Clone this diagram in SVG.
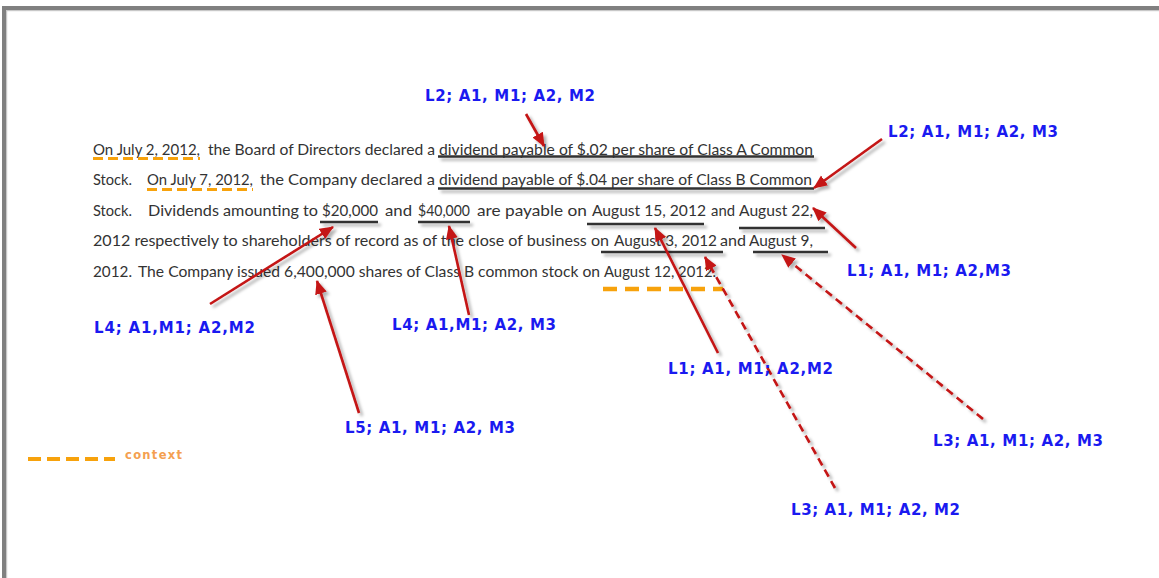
<svg xmlns="http://www.w3.org/2000/svg" width="1159" height="578" viewBox="0 0 1159 578">
<style>
.body{font-family:Lato,"Liberation Sans",sans-serif;font-size:15px;fill:#333}
.lbl{font-family:"DejaVu Sans",Verdana,sans-serif;font-size:15px;font-weight:bold;fill:#1a1af0}
.ul{stroke:#333;stroke-width:2.6;fill:none}
.ctx{stroke:#f7a20c;fill:none}
.arr{stroke:#c41414;stroke-width:2.6;fill:none}
.dash{stroke-dasharray:8 5}
</style>
<defs>
<filter id="sh" x="-20%" y="-50%" width="140%" height="300%">
<feDropShadow dx="3" dy="3" stdDeviation="1.6" flood-color="#000" flood-opacity="0.3"/>
</filter>
<marker id="ah" markerUnits="userSpaceOnUse" markerWidth="16" markerHeight="14" refX="13" refY="6" orient="auto">
<path d="M0,0 L14,6 L0,12 Z" fill="#c41414"/>
</marker>
</defs>
<rect width="1159" height="578" fill="#fff"/>
<g id="frame">
<rect x="2" y="6" width="1157" height="4" fill="#808080"/>
<rect x="2" y="6" width="4" height="572" fill="#808080"/>
<rect x="6" y="10" width="1153" height="1.2" fill="#c8c8c8"/>
<rect x="6" y="10" width="1.2" height="568" fill="#c8c8c8"/>
</g>
<g id="text-body">
<text class="body" x="93" y="154.5" textLength="107" lengthAdjust="spacingAndGlyphs">On July 2, 2012,</text>
<text class="body" x="208" y="154.5" textLength="227" lengthAdjust="spacingAndGlyphs">the Board of Directors declared a</text>
<text class="body" x="439" y="154.5" textLength="374" lengthAdjust="spacingAndGlyphs">dividend payable of $.02 per share of Class A Common</text>
<text class="body" x="93" y="185" textLength="39" lengthAdjust="spacingAndGlyphs">Stock.</text>
<text class="body" x="147" y="185" textLength="106" lengthAdjust="spacingAndGlyphs">On July 7, 2012,</text>
<text class="body" x="260" y="185" textLength="175" lengthAdjust="spacingAndGlyphs">the Company declared a</text>
<text class="body" x="439" y="185" textLength="373" lengthAdjust="spacingAndGlyphs">dividend payable of $.04 per share of Class B Common</text>
<text class="body" x="93" y="215.5" textLength="39" lengthAdjust="spacingAndGlyphs">Stock.</text>
<text class="body" x="148" y="215.5" textLength="170" lengthAdjust="spacingAndGlyphs">Dividends amounting to</text>
<text class="body" x="322" y="215.5" textLength="56" lengthAdjust="spacingAndGlyphs">$20,000</text>
<text class="body" x="385" y="215.5" textLength="27" lengthAdjust="spacingAndGlyphs">and</text>
<text class="body" x="418" y="215.5" textLength="52" lengthAdjust="spacingAndGlyphs">$40,000</text>
<text class="body" x="477" y="215.5" textLength="110" lengthAdjust="spacingAndGlyphs">are payable on</text>
<text class="body" x="592" y="215.5" textLength="114" lengthAdjust="spacingAndGlyphs">August 15, 2012</text>
<text class="body" x="711" y="215.5" textLength="24" lengthAdjust="spacingAndGlyphs">and</text>
<text class="body" x="739" y="215.5" textLength="74" lengthAdjust="spacingAndGlyphs">August 22,</text>
<text class="body" x="93" y="246" textLength="516" lengthAdjust="spacingAndGlyphs">2012 respectively to shareholders of record as of the close of business on</text>
<text class="body" x="614" y="246" textLength="103" lengthAdjust="spacingAndGlyphs">August 3, 2012</text>
<text class="body" x="720" y="246" textLength="26" lengthAdjust="spacingAndGlyphs">and</text>
<text class="body" x="749" y="246" textLength="64" lengthAdjust="spacingAndGlyphs">August 9,</text>
<text class="body" x="93" y="276.5" textLength="39" lengthAdjust="spacingAndGlyphs">2012.</text>
<text class="body" x="138" y="276.5" textLength="462" lengthAdjust="spacingAndGlyphs">The Company issued 6,400,000 shares of Class B common stock on</text>
<text class="body" x="604" y="276.5" textLength="112" lengthAdjust="spacingAndGlyphs">August 12, 2012.</text>
</g>
<g id="underlines" filter="url(#sh)">
<line class="ul" x1="438" y1="156.5" x2="814" y2="156.5"/>
<line class="ul" x1="438" y1="188.5" x2="814" y2="188.5"/>
<line class="ul" x1="320" y1="222" x2="378" y2="222"/>
<line class="ul" x1="418" y1="222" x2="470" y2="222"/>
<line class="ul" x1="587" y1="224" x2="704" y2="224"/>
<line class="ul" x1="739" y1="228" x2="825" y2="228"/>
<line class="ul" x1="601" y1="252" x2="723" y2="252"/>
<line class="ul" x1="753" y1="252" x2="828" y2="252"/>
</g>
<g id="context-marks">
<line class="ctx" x1="93" y1="158.5" x2="200" y2="158.5" stroke-width="2.8" stroke-dasharray="10 5"/>
<line class="ctx" x1="147" y1="189.5" x2="253" y2="189.5" stroke-width="2.8" stroke-dasharray="10 5"/>
<line class="ctx" x1="603" y1="289" x2="723" y2="289" stroke-width="4.5" stroke-dasharray="14 8"/>
</g>
<g id="connectors" filter="url(#sh)">
<line class="arr" x1="526" y1="114" x2="544" y2="146" marker-end="url(#ah)"/>
<line class="arr" x1="882" y1="139" x2="814" y2="188" marker-end="url(#ah)"/>
<line class="arr" x1="856" y1="248" x2="813" y2="208" marker-end="url(#ah)"/>
<line class="arr" x1="210" y1="304" x2="333" y2="227" marker-end="url(#ah)"/>
<line class="arr" x1="469" y1="315" x2="449" y2="226" marker-end="url(#ah)"/>
<line class="arr" x1="359" y1="413" x2="317" y2="281" marker-end="url(#ah)"/>
<line class="arr" x1="718" y1="353" x2="655" y2="228" marker-end="url(#ah)"/>
<line class="arr dash" x1="835" y1="488" x2="705" y2="257" marker-end="url(#ah)"/>
<line class="arr dash" x1="983" y1="419" x2="782" y2="255" marker-end="url(#ah)"/>
</g>
<g id="label-l2-m2"><text class="lbl" x="425" y="101" textLength="170">L2; A1, M1; A2, M2</text></g>
<g id="label-l2-m3"><text class="lbl" x="888" y="137" textLength="170">L2; A1, M1; A2, M3</text></g>
<g id="label-l1-m3"><text class="lbl" x="847" y="276" textLength="164">L1; A1, M1; A2,M3</text></g>
<g id="label-l4-m2"><text class="lbl" x="94" y="333" textLength="161">L4; A1,M1; A2,M2</text></g>
<g id="label-l4-m3"><text class="lbl" x="392" y="330" textLength="164">L4; A1,M1; A2, M3</text></g>
<g id="label-l5-m3"><text class="lbl" x="345" y="433" textLength="170">L5; A1, M1; A2, M3</text></g>
<g id="label-l1-m2"><text class="lbl" x="668" y="374" textLength="165">L1; A1, M1; A2,M2</text></g>
<g id="label-l3-m3"><text class="lbl" x="933" y="446" textLength="170">L3; A1, M1; A2, M3</text></g>
<g id="label-l3-m2"><text class="lbl" x="791" y="515" textLength="169">L3; A1, M1; A2, M2</text></g>
<g id="legend">
<line class="ctx" x1="28" y1="459" x2="115" y2="459" stroke-width="4" stroke-dasharray="13 6"/>
<text x="125" y="459" textLength="57" style="font-family:'DejaVu Sans',Verdana,sans-serif;font-size:11.5px;font-weight:bold;fill:#f4a050">context</text>
</g>
</svg>
